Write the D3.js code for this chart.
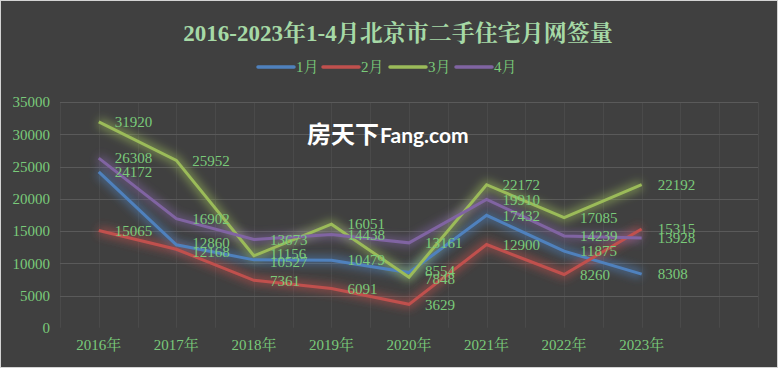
<!DOCTYPE html>
<html><head><meta charset="utf-8">
<script src="https://cdn.jsdelivr.net/npm/d3@7"></script>
<style>html,body{margin:0;padding:0;background:#404040;}svg{display:block;}</style>
</head><body>
<svg id="c" width="778" height="368"></svg>
<script>
const years = ["2016年","2017年","2018年","2019年","2020年","2021年","2022年","2023年"];
const seriesNames = ["1月","2月","3月","4月"];
const jan = [24172, 12860, 10527, 10479, 8554, 17432, 11875, 8308];
const feb = [15065, 12168, 7361, 6091, 3629, 12900, 8260, 15315];
const mar = [31920, 25952, 11156, 16051, 7848, 22172, 17085, 22192];
const apr = [26308, 16902, 13673, 14438, 13161, 19910, 14239, 13928];
const colors = ["#4f81bd", "#c0504d", "#9bbb59", "#8064a2"];
const yTicks = [0, 5000, 10000, 15000, 20000, 25000, 30000, 35000];
const titleText = "2016-2023年1-4月北京市二手住宅月网签量";

const W = 778, H = 368;
const svg = d3.select("#c");
const green = "#7acb7a";
const serif = "'Liberation Serif','Noto Serif CJK SC','Noto Sans CJK SC',serif";

svg.append("rect").attr("x",0.5).attr("y",0.5).attr("width",W-1).attr("height",H-1)
  .attr("fill","#404040").attr("stroke","#d4d4d4").attr("stroke-width",1);

const defs = svg.append("defs");
const f = defs.append("filter").attr("id","glow").attr("x","-20%").attr("y","-40%").attr("width","140%").attr("height","180%");
f.append("feGaussianBlur").attr("stdDeviation",4.5);

const plotL = 60, plotR = 758;
const step = (plotR - plotL) / 9;
const x = d3.scaleBand().domain(years).range([plotL, plotL + step * years.length]).paddingInner(0).paddingOuter(0);
const cx = d => x(d) + x.bandwidth() / 2;
const y = d3.scaleLinear().domain([0, 35000]).range([327.75, 102]);

// vertical grid (faint)
const g = svg.append("g");
d3.range(0, 19).forEach(i => {
  const xx = Math.round(plotL + i * step / 2) + 0.5;
  g.append("line").attr("x1",xx).attr("x2",xx).attr("y1",y(35000)).attr("y2",y(0))
    .attr("stroke","#4a4a4a").attr("stroke-width",1);
});
// horizontal grid
yTicks.filter(t => t > 0).forEach(t => {
  const yy = Math.round(y(t)) + 0.5;
  g.append("line").attr("x1",plotL).attr("x2",plotR).attr("y1",yy).attr("y2",yy)
    .attr("stroke","#5a5a5a").attr("stroke-width",1);
});

// y axis labels via d3 axis
const yAxis = svg.append("g").attr("transform",`translate(${plotL},0)`)
  .call(d3.axisLeft(y).tickValues(yTicks).tickFormat(d3.format("d")).tickSize(0).tickPadding(10));
yAxis.select(".domain").remove();
yAxis.selectAll("text").attr("fill",green).style("font-family",serif).style("font-size","15px");

// x axis labels
const xAxis = svg.append("g").attr("transform",`translate(0,${y(0)})`)
  .call(d3.axisBottom(x).tickSize(0).tickPadding(12));
xAxis.select(".domain").remove();
xAxis.selectAll("text").attr("fill",green).style("font-family",serif).style("font-size","15px");

// watermark
const wm = svg.append("text").attr("x",307).attr("y",143).attr("fill","#ffffff");
wm.append("tspan").text("房天下").style("font-family","'Noto Sans CJK SC',sans-serif").style("font-weight","bold").style("font-size","24px");
wm.append("tspan").text("Fang.com").style("font-family","Lato,'Open Sans',sans-serif").style("font-weight","bold").style("font-size","21px").attr("dx",1);

const data = [jan, feb, mar, apr];
const line = d3.line().x((d,i) => cx(years[i])).y(d => y(d));

// glows
data.forEach((s,k) => {
  svg.append("path").attr("d", line(s)).attr("fill","none").attr("stroke",colors[k])
    .attr("stroke-width",9).attr("stroke-opacity",0.55).attr("stroke-linejoin","round").attr("filter","url(#glow)");
});
data.forEach((s,k) => {
  svg.append("path").attr("d", line(s)).attr("fill","none").attr("stroke",colors[k])
    .attr("stroke-width",3).attr("stroke-linejoin","miter");
});

// data labels, with slight nudging of near-coincident labels
const labels = [];
data.forEach((s,k) => s.forEach((v,i) => labels.push({k, i, v, ly: y(v)})));
years.forEach((yr,i) => {
  const grp = labels.filter(l => l.i === i).sort((a,b) => a.ly - b.ly);
  for (let j = 1; j < grp.length; j++) {
    const gap = grp[j].ly - grp[j-1].ly;
    const minGap = 8.5;
    if (gap < minGap) {
      const d = (minGap - gap) / 2;
      grp[j-1].ly -= d; grp[j].ly += d;
    }
  }
});
svg.append("g").selectAll("text").data(labels).join("text")
  .attr("x",d => cx(years[d.i]) + 16)
  .attr("y",d => d.ly)
  .attr("dy","0.35em")
  .attr("fill",green).style("font-family",serif).style("font-size","15px")
  .text(d => d.v);

// title
svg.append("text").attr("x",398).attr("y",41).attr("text-anchor","middle")
  .attr("fill","#a6d9a6").style("font-family",serif).style("font-weight","bold").style("font-size","23px")
  .text(titleText);

// legend
const lg = svg.append("g");
const legX = [258, 323, 390, 456];
seriesNames.forEach((n,k) => {
  lg.append("line").attr("x1",legX[k]).attr("x2",legX[k]+36).attr("y1",67).attr("y2",67)
    .attr("stroke",colors[k]).attr("stroke-width",3.5).attr("stroke-linecap","round");
  lg.append("text").attr("x",legX[k]+38).attr("y",67).attr("dy","0.35em")
    .attr("fill",green).style("font-family",serif).style("font-size","15px").text(n);
});
</script>
</body></html>
